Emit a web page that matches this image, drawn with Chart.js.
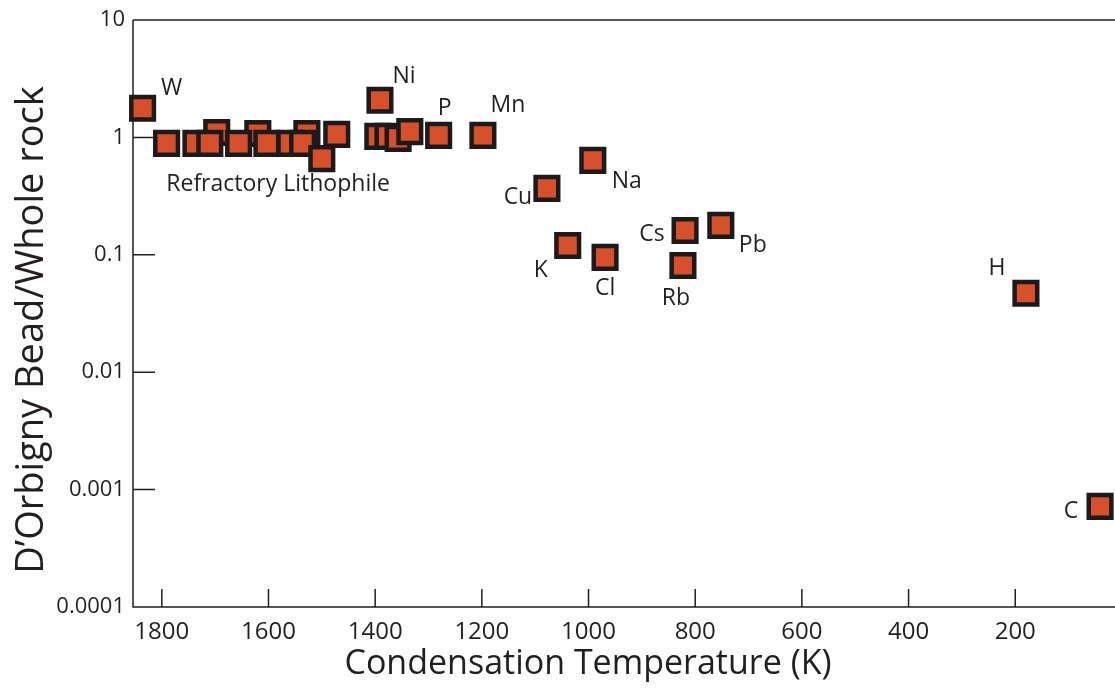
<!DOCTYPE html>
<html lang="en">
<head>
    <meta charset="UTF-8">
    <title>D'Orbigny Bead / Whole rock</title>
    <script src="https://cdn.jsdelivr.net/npm/chart.js"></script>
    <style>
        body { margin: 0; background: #fff; }
        .chart-container { width: 1115px; height: 691px; position: relative; }
    </style>
</head>
<body>
    <div class="chart-container">
        <canvas id="beadChart"></canvas>
    </div>

    <script>
        // values; empty name = unlabelled point
        const elements = ['W',
            '', '', '', '', '', '', '', '', '', '', '', '',
            'Ni', '', '', '', '',
            'P', 'Mn', 'Cu', 'Na', 'K', 'Cl', 'Cs', 'Pb', 'Rb', 'H', 'C'];
        const condensationTemps = [1836,
            1697, 1620, 1528, 1791, 1736, 1710, 1656, 1603, 1560, 1536, 1500, 1472,
            1391, 1395, 1376, 1357, 1335,
            1281, 1198, 1078, 992, 1039, 969, 819, 752, 823, 180, 41];
        const beadRatios = [1.77,
            1.10, 1.08, 1.08, 0.89, 0.89, 0.89, 0.89, 0.89, 0.89, 0.89, 0.66, 1.06,
            2.07, 1.02, 1.02, 0.98, 1.12,
            1.04, 1.04, 0.368, 0.637, 0.12, 0.095, 0.161, 0.178, 0.081, 0.047, 0.00072];

        const xTicks = [200, 400, 600, 800, 1000, 1200, 1400, 1600, 1800];
        const yTicks = [0.0001, 0.001, 0.01, 0.1, 1, 10];
        const yTickLabels = ['0.0001', '0.001', '0.01', '0.1', '1', '10'];

        const groupLabel = 'Refractory Lithophile';
        const groupLabelAt = { x: 1582, y: 0.4 };

        // label offsets from the marker centre, in pixels
        const labelOffsets = {
            W: [29, -20], Ni: [24, -24], P: [6, -27], Mn: [25, -30],
            Cu: [-29, 9], Na: [34, 21], K: [-27, 25], Cl: [0, 31],
            Cs: [-33, 4], Pb: [32, 20], Rb: [-7, 33], H: [-29, -25], C: [-29, 5]
        };

        const ink = '#231f20';
        Chart.defaults.font.family = "'Open Sans', sans-serif";
        Chart.defaults.color = ink;

        const framePlugin = {
            id: 'frame',
            beforeDatasetsDraw(chart) {
                const { ctx, chartArea: a, scales: { x, y } } = chart;
                ctx.save();
                ctx.strokeStyle = ink;
                ctx.lineWidth = 1.5;
                ctx.beginPath();
                ctx.moveTo(a.left, a.top);
                ctx.lineTo(a.right, a.top);
                ctx.moveTo(a.left, a.top);
                ctx.lineTo(a.left, a.bottom);
                ctx.lineTo(a.right, a.bottom);
                // tick marks point inward
                x.ticks.forEach(t => {
                    const px = x.getPixelForValue(t.value);
                    ctx.moveTo(px, a.bottom);
                    ctx.lineTo(px, a.bottom - 18);
                });
                y.ticks.forEach(t => {
                    const py = y.getPixelForValue(t.value);
                    ctx.moveTo(a.left, py);
                    ctx.lineTo(a.left + 22, py);
                });
                ctx.stroke();
                ctx.restore();
            },
            afterDatasetsDraw(chart) {
                const { ctx, chartArea: a, scales: { x, y } } = chart;
                const points = chart.getDatasetMeta(0).data;
                ctx.save();
                ctx.fillStyle = ink;
                ctx.textAlign = 'center';
                ctx.textBaseline = 'middle';
                ctx.font = "23px 'Open Sans', sans-serif";
                elements.forEach((name, i) => {
                    if (!name) return;
                    const off = labelOffsets[name] || [0, -25];
                    ctx.fillText(name, points[i].x + off[0], points[i].y + off[1]);
                });
                ctx.fillText(groupLabel, x.getPixelForValue(groupLabelAt.x), y.getPixelForValue(groupLabelAt.y));

                // axis titles
                ctx.font = "34px 'Open Sans', sans-serif";
                ctx.fillText('Condensation Temperature (K)', a.left + 455, 664);
                ctx.translate(32, 330);
                ctx.rotate(-Math.PI / 2);
                ctx.font = "38px 'Open Sans', sans-serif";
                ctx.fillText('D\u2019Orbigny Bead/Whole rock', 0, 0);
                ctx.restore();
            }
        };

        const ctx = document.getElementById('beadChart').getContext('2d');
        new Chart(ctx, {
            type: 'scatter',
            data: {
                datasets: [{
                    data: condensationTemps.map((t, i) => ({ x: t, y: beadRatios[i] })),
                    pointStyle: 'rect',
                    pointRadius: 16,
                    pointHoverRadius: 16,
                    backgroundColor: '#d5502b',
                    borderColor: '#1c1a1a',
                    borderWidth: 4.5,
                    clip: false
                }]
            },
            options: {
                responsive: true,
                maintainAspectRatio: false,
                animation: false,
                events: [],
                layout: { autoPadding: false, padding: { top: 20, left: 0, right: 0, bottom: 0 } },
                plugins: {
                    legend: { display: false },
                    tooltip: { enabled: false }
                },
                scales: {
                    x: {
                        type: 'linear',
                        reverse: true,
                        min: 13,
                        max: 1854,
                        grid: { display: false },
                        border: { display: false },
                        afterBuildTicks: scale => { scale.ticks = xTicks.map(v => ({ value: v })); },
                        afterFit: scale => {
                            scale.height = 84;
                            scale.paddingLeft = 0;
                            scale.paddingRight = 0;
                        },
                        ticks: {
                            padding: 3,
                            font: { size: 24 },
                            color: ink,
                            maxRotation: 0,
                            callback: v => String(v)
                        }
                    },
                    y: {
                        type: 'logarithmic',
                        min: 0.0001,
                        max: 10,
                        grid: { display: false },
                        border: { display: false },
                        afterBuildTicks: scale => { scale.ticks = yTicks.map(v => ({ value: v })); },
                        afterFit: scale => { scale.width = 133; },
                        ticks: {
                            padding: 0,
                            font: { size: 22 },
                            color: ink,
                            callback: v => yTickLabels[yTicks.indexOf(v)] ?? ''
                        }
                    }
                }
            },
            plugins: [framePlugin]
        });
    </script>
</body>
</html>
